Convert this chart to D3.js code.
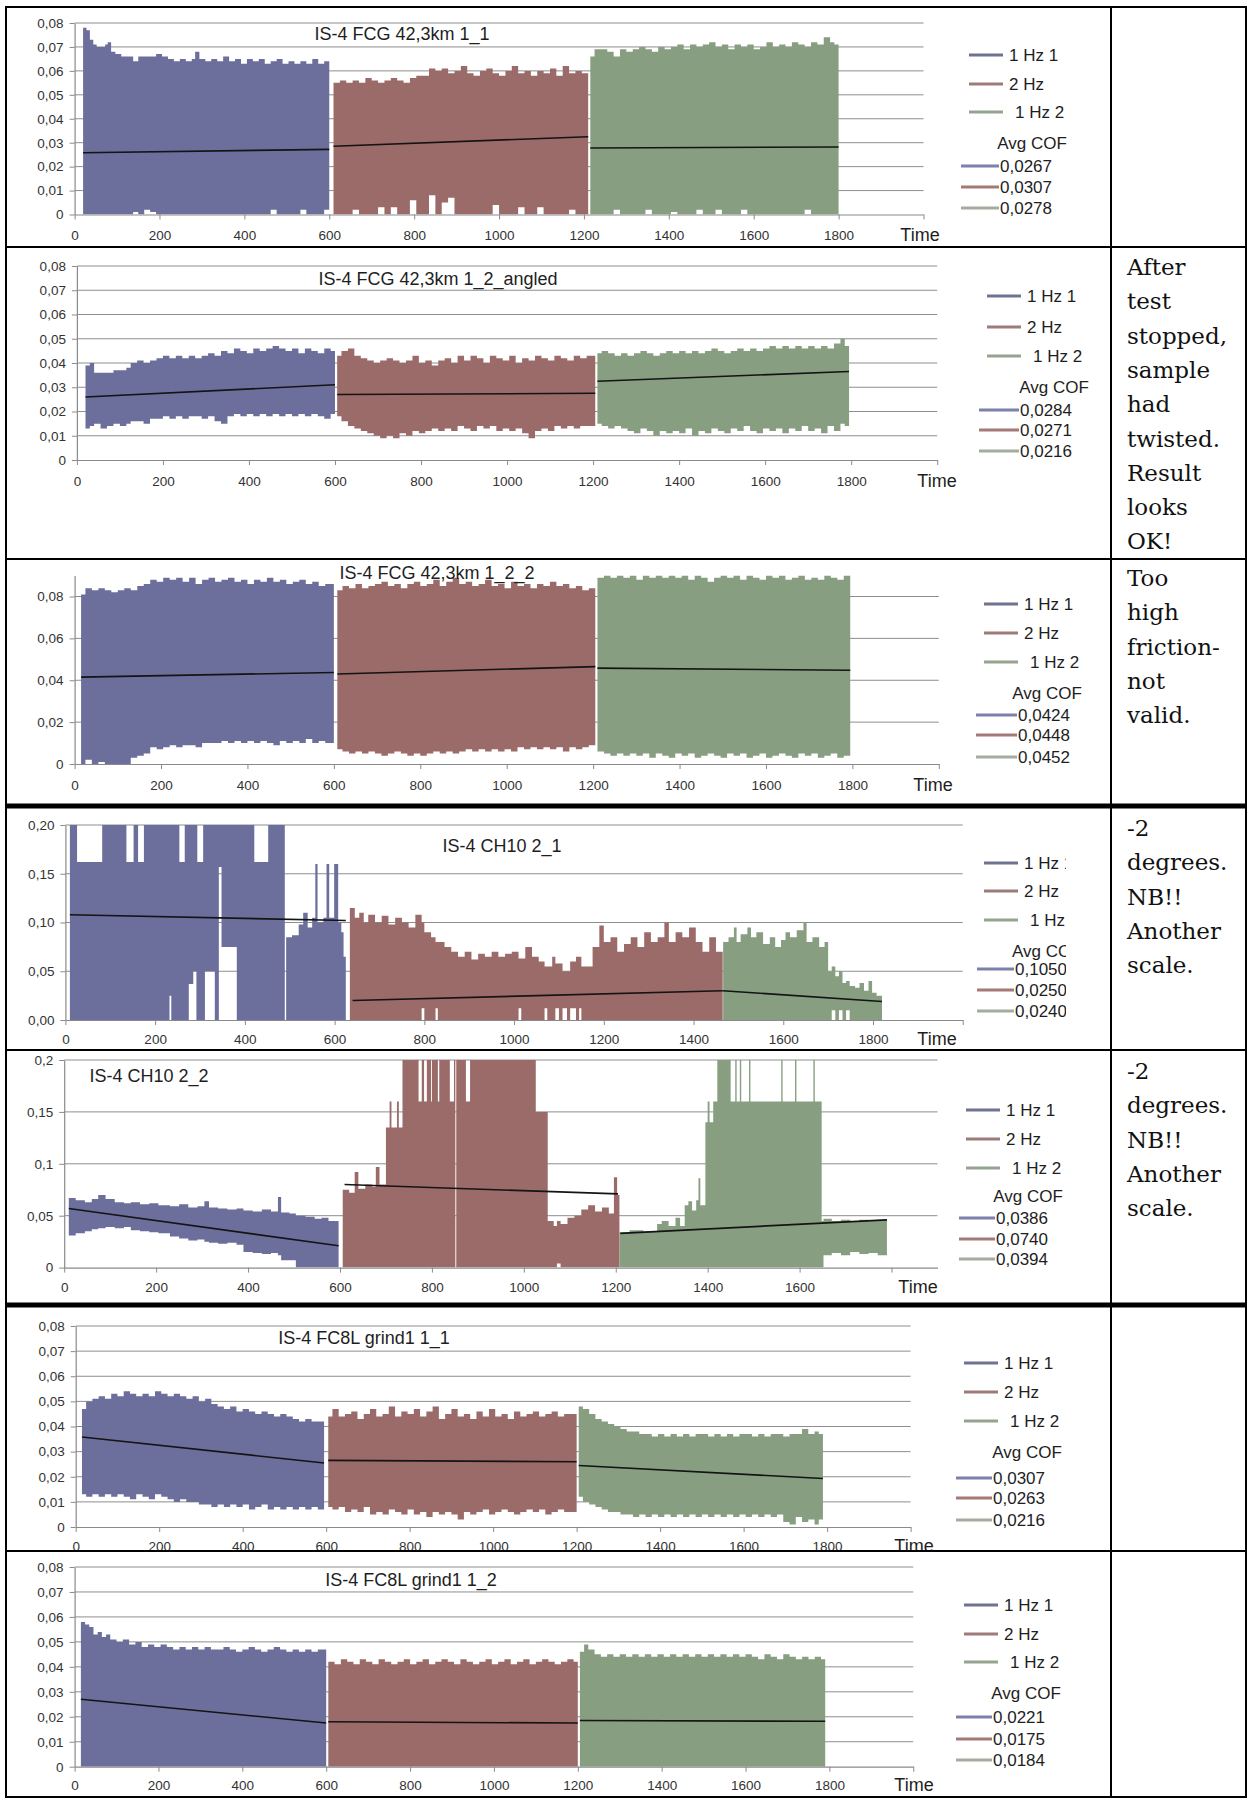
<!DOCTYPE html>
<html><head><meta charset="utf-8">
<script src="https://cdn.jsdelivr.net/npm/d3@7"></script>
<style>
body{margin:0;background:#fff}
svg{display:block}
</style>
</head><body>
<svg id="c" width="1247" height="1798"></svg>
<script>
// ---------------- DATA ----------------
const seriesNames = ["1 Hz 1", "2 Hz", " 1 Hz 2"];
const avgLabel = "Avg COF";
const titles = ["IS-4 FCG 42,3km 1_1", "IS-4 FCG 42,3km 1_2_angled", "IS-4 FCG 42,3km 1_2_2",
  "IS-4 CH10 2_1", "IS-4 CH10 2_2", "IS-4 FC8L grind1 1_1", "IS-4 FC8L grind1 1_2"];
const avgValues = [["0,0267","0,0307","0,0278"],["0,0284","0,0271","0,0216"],["0,0424","0,0448","0,0452"],
  ["0,1050","0,0250","0,0240"],["0,0386","0,0740","0,0394"],["0,0307","0,0263","0,0216"],["0,0221","0,0175","0,0184"]];
const comments = [[], ["After","test","stopped,","sample","had","twisted.","Result","looks","OK!"],
  ["Too","high","friction-","not","valid."], ["-2","degrees.","NB!!","Another","scale."],
  ["-2","degrees.","NB!!","Another","scale."], [], []];

const yTicks8 = [0,0.01,0.02,0.03,0.04,0.05,0.06,0.07,0.08];
const yTicksEven = [0,0.02,0.04,0.06,0.08];
const yTicks20 = [0,0.05,0.10,0.15,0.20];
const xTicks2000 = [0,200,400,600,800,1000,1200,1400,1600,1800,2000];
const xTicks1800 = [0,200,400,600,800,1000,1200,1400,1600,1800];

// each point: [time, lower envelope, upper envelope]
const p1Blue = [[20,0,0.078],[28,0,0.077],[36,0,0.073],[44,0,0.071],[52,0,0.070],[62,0,0.070],[72,0,0.071],[78,0,0.072],[86,0,0.068],[96,0,0.067],[110,0,0.066],[124,0,0.066],[138,0.001,0.064],[150,0,0.066],[164,0.002,0.066],[178,0.001,0.066],[192,0,0.067],[206,0,0.066],[220,0,0.065],[234,0,0.064],[248,0,0.065],[262,0,0.064],[276,0,0.065],[284,0,0.068],[294,0,0.065],[308,0,0.064],[322,0,0.065],[336,0,0.064],[350,0,0.066],[364,0,0.064],[378,0,0.065],[392,0,0.063],[406,0,0.065],[420,0,0.064],[434,0,0.065],[448,0,0.063],[462,0.002,0.064],[476,0,0.065],[490,0,0.063],[504,0,0.064],[518,0,0.063],[532,0.002,0.064],[546,0,0.063],[560,0,0.065],[574,0,0.063],[588,0.002,0.064],[600,0,0.063]];
const p1Red = [[610,0,0.055],[625,0,0.056],[640,0,0.055],[655,0.002,0.056],[670,0,0.055],[685,0,0.057],[700,0,0.056],[715,0.003,0.055],[730,0,0.056],[745,0.003,0.057],[760,0,0.056],[775,0,0.055],[790,0.006,0.057],[805,0,0.058],[820,0,0.058],[835,0.008,0.061],[850,0,0.060],[865,0.005,0.061],[880,0.007,0.059],[895,0,0.060],[910,0,0.062],[925,0,0.059],[940,0,0.058],[955,0,0.060],[970,0,0.061],[985,0.004,0.059],[1000,0,0.058],[1015,0,0.060],[1030,0,0.062],[1045,0.003,0.059],[1060,0,0.060],[1075,0,0.058],[1090,0.003,0.060],[1105,0,0.059],[1120,0,0.061],[1135,0,0.058],[1150,0,0.062],[1165,0.002,0.059],[1180,0,0.060],[1195,0,0.059],[1210,0,0.060]];
const p1Green = [[1215,0,0.066],[1225,0,0.069],[1240,0,0.069],[1255,0,0.068],[1270,0.002,0.066],[1285,0,0.069],[1300,0,0.068],[1315,0,0.069],[1330,0,0.070],[1345,0.002,0.069],[1360,0,0.068],[1375,0,0.070],[1390,0,0.069],[1405,0.001,0.070],[1420,0,0.071],[1435,0,0.069],[1450,0,0.071],[1465,0.002,0.070],[1480,0,0.071],[1495,0,0.072],[1510,0.002,0.070],[1525,0,0.071],[1540,0,0.069],[1555,0,0.071],[1570,0.002,0.070],[1585,0,0.071],[1600,0,0.069],[1615,0,0.070],[1630,0,0.072],[1645,0,0.070],[1660,0,0.071],[1675,0,0.070],[1690,0,0.072],[1705,0,0.071],[1720,0.002,0.070],[1735,0,0.072],[1750,0,0.071],[1765,0,0.074],[1780,0,0.072],[1790,0,0.071],[1800,0,0.071]];
const p1Trend = [[20,0.0258,600,0.0272],[610,0.0285,1210,0.0325],[1215,0.0278,1800,0.0282]];

const p2Blue = [[20,0.013,0.039],[30,0.014,0.040],[40,0.015,0.036],[55,0.013,0.036],[70,0.014,0.036],[85,0.015,0.037],[100,0.014,0.037],[115,0.015,0.038],[125,0.016,0.040],[140,0.016,0.041],[155,0.015,0.040],[170,0.017,0.041],[185,0.017,0.042],[200,0.018,0.043],[215,0.017,0.042],[230,0.018,0.043],[245,0.017,0.042],[260,0.018,0.043],[275,0.018,0.042],[290,0.017,0.043],[305,0.018,0.044],[320,0.016,0.043],[335,0.015,0.045],[350,0.018,0.044],[365,0.019,0.046],[380,0.018,0.045],[395,0.019,0.044],[410,0.018,0.046],[425,0.019,0.045],[440,0.018,0.046],[455,0.019,0.047],[470,0.018,0.046],[485,0.019,0.045],[500,0.018,0.046],[515,0.019,0.044],[530,0.018,0.046],[545,0.019,0.045],[560,0.018,0.044],[575,0.017,0.046],[590,0.019,0.045],[600,0.019,0.045]];
const p2Red = [[605,0.018,0.043],[615,0.016,0.045],[630,0.014,0.046],[645,0.013,0.043],[660,0.012,0.042],[675,0.011,0.041],[690,0.010,0.040],[705,0.009,0.041],[720,0.010,0.042],[735,0.009,0.041],[750,0.011,0.040],[765,0.010,0.041],[780,0.012,0.043],[795,0.011,0.040],[810,0.012,0.041],[825,0.013,0.039],[840,0.012,0.041],[855,0.013,0.042],[870,0.012,0.040],[885,0.014,0.043],[900,0.013,0.041],[915,0.012,0.043],[930,0.014,0.042],[945,0.013,0.040],[960,0.014,0.043],[975,0.012,0.042],[990,0.013,0.041],[1005,0.012,0.043],[1020,0.013,0.040],[1035,0.011,0.042],[1050,0.009,0.041],[1065,0.012,0.043],[1080,0.013,0.042],[1095,0.012,0.041],[1110,0.014,0.043],[1125,0.013,0.042],[1140,0.014,0.041],[1155,0.013,0.043],[1170,0.014,0.042],[1185,0.014,0.043],[1205,0.015,0.043]];
const p2Green = [[1210,0.015,0.044],[1220,0.014,0.045],[1235,0.013,0.044],[1250,0.014,0.043],[1265,0.013,0.044],[1280,0.012,0.043],[1295,0.011,0.044],[1310,0.013,0.045],[1325,0.012,0.044],[1340,0.010,0.043],[1355,0.012,0.044],[1370,0.011,0.045],[1385,0.012,0.044],[1400,0.011,0.045],[1415,0.013,0.044],[1430,0.010,0.045],[1445,0.012,0.044],[1460,0.011,0.045],[1475,0.013,0.046],[1490,0.012,0.045],[1505,0.011,0.044],[1520,0.013,0.045],[1535,0.012,0.046],[1550,0.014,0.045],[1565,0.012,0.046],[1580,0.011,0.045],[1595,0.013,0.046],[1610,0.012,0.047],[1625,0.013,0.046],[1640,0.011,0.047],[1655,0.013,0.046],[1670,0.012,0.047],[1685,0.014,0.046],[1700,0.012,0.047],[1715,0.013,0.046],[1730,0.011,0.047],[1745,0.014,0.046],[1760,0.012,0.048],[1775,0.015,0.050],[1785,0.014,0.047],[1795,0.016,0.047]];
const p2Trend = [[20,0.026,600,0.031],[605,0.027,1205,0.0275],[1210,0.0325,1795,0.0365]];

const p3Blue = [[15,0.000,0.081],[25,0.002,0.084],[40,0.000,0.083],[55,0.001,0.084],[70,0.000,0.083],[85,0.000,0.082],[100,0.000,0.083],[115,0.000,0.084],[130,0.003,0.083],[145,0.004,0.085],[160,0.005,0.086],[175,0.008,0.088],[190,0.007,0.087],[205,0.008,0.089],[220,0.009,0.088],[235,0.008,0.089],[250,0.009,0.087],[265,0.009,0.089],[280,0.008,0.086],[295,0.010,0.088],[310,0.010,0.089],[325,0.010,0.087],[340,0.011,0.088],[355,0.010,0.089],[370,0.011,0.087],[385,0.010,0.088],[400,0.011,0.086],[415,0.010,0.088],[430,0.011,0.087],[445,0.010,0.089],[460,0.009,0.087],[475,0.011,0.088],[490,0.010,0.086],[505,0.011,0.087],[520,0.010,0.088],[535,0.012,0.086],[550,0.010,0.087],[565,0.011,0.085],[580,0.010,0.086],[600,0.011,0.086]];
const p3Red = [[608,0.007,0.083],[620,0.006,0.085],[635,0.005,0.084],[650,0.006,0.086],[665,0.005,0.084],[680,0.006,0.085],[695,0.005,0.086],[710,0.004,0.087],[725,0.005,0.085],[740,0.006,0.086],[755,0.005,0.084],[770,0.004,0.086],[785,0.005,0.087],[800,0.004,0.085],[815,0.005,0.086],[830,0.006,0.088],[845,0.005,0.085],[860,0.006,0.087],[875,0.005,0.089],[890,0.006,0.086],[905,0.007,0.087],[920,0.006,0.085],[935,0.007,0.086],[950,0.006,0.088],[965,0.007,0.085],[980,0.006,0.086],[995,0.007,0.084],[1010,0.006,0.087],[1025,0.008,0.085],[1040,0.007,0.086],[1055,0.008,0.084],[1070,0.007,0.086],[1085,0.008,0.085],[1100,0.007,0.087],[1115,0.008,0.085],[1130,0.006,0.086],[1145,0.008,0.084],[1160,0.007,0.085],[1175,0.008,0.083],[1190,0.009,0.084],[1205,0.008,0.083]];
const p3Green = [[1210,0.006,0.089],[1225,0.005,0.090],[1240,0.004,0.089],[1255,0.005,0.090],[1270,0.004,0.089],[1285,0.005,0.090],[1300,0.004,0.088],[1315,0.005,0.090],[1330,0.003,0.089],[1345,0.005,0.090],[1360,0.004,0.089],[1375,0.003,0.090],[1390,0.005,0.089],[1405,0.004,0.090],[1420,0.005,0.088],[1435,0.003,0.090],[1450,0.004,0.089],[1465,0.005,0.087],[1480,0.004,0.089],[1495,0.003,0.090],[1510,0.005,0.089],[1525,0.004,0.090],[1540,0.005,0.088],[1555,0.003,0.090],[1570,0.004,0.089],[1585,0.005,0.088],[1600,0.003,0.090],[1615,0.004,0.089],[1630,0.005,0.090],[1645,0.004,0.088],[1660,0.003,0.089],[1675,0.005,0.090],[1690,0.004,0.088],[1705,0.005,0.089],[1720,0.003,0.088],[1735,0.004,0.090],[1750,0.005,0.089],[1765,0.003,0.088],[1780,0.004,0.090],[1795,0.005,0.089]];
const p3Trend = [[15,0.0415,600,0.0437],[608,0.043,1205,0.0465],[1210,0.0458,1795,0.0448]];

const p4Blue = [[10,0,0.20],[26,0,0.162],[82,0,0.20],[125,0,0.20],[136,0,0.162],[152,0,0.20],[162,0,0.162],[175,0,0.20],[232,0.025,0.20],[236,0,0.20],[254,0,0.162],[266,0,0.20],[275,0.037,0.20],[285,0.05,0.20],[292,0,0.20],[294,0,0.162],[307,0,0.20],[311,0.05,0.20],[333,0,0.20],[342,0.157,0.20],[348,0.075,0.20],[382,0,0.20],[421,0,0.162],[452,0,0.20],[489,0,0],[492,0,0.085],[505,0,0.087],[520,0,0.098],[530,0,0.11],[540,0,0.095],[550,0,0.105],[557,0,0.16],[562,0,0.10],[575,0,0.105],[582,0,0.16],[588,0,0.105],[599,0,0.16],[608,0,0.10],[615,0,0.09],[620,0,0.065],[625,0,0.065]];
const p4Red = [[634,0,0.115],[645,0,0.105],[655,0,0.11],[665,0,0.10],[675,0,0.108],[690,0,0.10],[705,0,0.107],[720,0,0.098],[735,0,0.105],[750,0,0.10],[765,0,0.095],[780,0,0.108],[794,0.012,0.10],[800,0,0.09],[815,0,0.085],[825,0.012,0.08],[830,0,0.08],[845,0,0.075],[860,0,0.07],[875,0,0.065],[890,0,0.07],[905,0,0.062],[920,0,0.068],[935,0,0.065],[950,0,0.07],[965,0,0.065],[980,0,0.068],[995,0,0.07],[1010,0.012,0.063],[1016,0,0.063],[1025,0,0.075],[1040,0,0.065],[1055,0,0.06],[1068,0.012,0.055],[1074,0,0.055],[1085,0,0.065],[1092,0.012,0.058],[1100,0,0.058],[1108,0.012,0.05],[1118,0,0.05],[1125,0.012,0.06],[1138,0,0.065],[1145,0.012,0.065],[1150,0,0.055],[1160,0,0.055],[1175,0,0.075],[1190,0,0.097],[1200,0,0.08],[1215,0,0.085],[1230,0,0.07],[1245,0,0.078],[1260,0,0.085],[1275,0,0.075],[1290,0,0.09],[1305,0,0.08],[1320,0,0.085],[1335,0,0.10],[1345,0,0.08],[1360,0,0.09],[1375,0,0.085],[1390,0,0.095],[1405,0,0.08],[1420,0,0.07],[1435,0,0.085],[1450,0,0.07],[1465,0,0.065]];
const p4Green = [[1466,0,0.08],[1478,0,0.085],[1490,0,0.095],[1496,0,0.08],[1505,0,0.088],[1520,0,0.095],[1528,0,0.085],[1540,0,0.09],[1555,0,0.078],[1570,0,0.085],[1582,0,0.075],[1595,0,0.082],[1605,0,0.09],[1615,0,0.085],[1630,0,0.092],[1645,0,0.10],[1652,0,0.08],[1665,0,0.085],[1680,0,0.075],[1692,0,0.08],[1700,0,0.05],[1708,0.01,0.055],[1716,0,0.045],[1724,0.01,0.05],[1732,0,0.038],[1740,0.01,0.04],[1748,0,0.035],[1760,0,0.033],[1770,0,0.038],[1780,0,0.03],[1790,0,0.04],[1798,0,0.028],[1808,0,0.025],[1820,0,0.025]];
const p4Trend = [[10,0.108,625,0.102],[640,0.020,1465,0.030],[1465,0.030,1820,0.019]];

const p5Blue = [[10,0.031,0.067],[25,0.033,0.065],[45,0.035,0.063],[60,0.037,0.066],[74,0.038,0.070],[90,0.039,0.066],[110,0.038,0.063],[130,0.039,0.062],[145,0.036,0.063],[165,0.035,0.061],[185,0.034,0.062],[205,0.033,0.060],[230,0.030,0.059],[250,0.028,0.061],[270,0.026,0.058],[290,0.027,0.059],[305,0.025,0.064],[315,0.024,0.058],[335,0.023,0.057],[355,0.024,0.056],[375,0.022,0.057],[390,0.015,0.055],[410,0.014,0.054],[430,0.013,0.056],[450,0.014,0.054],[465,0.012,0.068],[472,0.007,0.053],[490,0.007,0.052],[504,0,0.050],[525,0,0.049],[545,0,0.047],[560,0,0.048],[575,0,0.045],[597,0,0.044]];
const p5Red = [[606,0,0.075],[620,0,0.072],[632,0,0.092],[640,0,0.076],[655,0,0.08],[670,0,0.078],[678,0,0.097],[686,0,0.08],[700,0,0.135],[708,0,0.16],[712,0,0.135],[724,0,0.16],[728,0,0.135],[736,0,0.20],[771,0,0.16],[778,0,0.20],[783,0,0.16],[789,0,0.20],[798,0,0.16],[800,0,0.20],[813,0,0.16],[816,0,0.20],[839,0,0.16],[848,0,0.20],[851,0,0],[853,0,0.20],[874,0,0.16],[883,0,0.20],[1026,0,0.15],[1052,0,0.045],[1065,0,0.04],[1072,0.004,0.045],[1080,0,0.042],[1095,0,0.048],[1110,0,0.05],[1125,0,0.056],[1140,0,0.06],[1155,0,0.054],[1170,0,0.058],[1185,0,0.052],[1196,0,0.087],[1203,0,0.07],[1208,0,0.07]];
const p5Green = [[1208,0,0.034],[1230,0,0.036],[1260,0,0.035],[1290,0,0.042],[1300,0,0.045],[1315,0,0.04],[1330,0,0.048],[1340,0,0.04],[1350,0,0.06],[1358,0,0.064],[1366,0,0.055],[1375,0,0.065],[1380,0,0.086],[1384,0,0.06],[1395,0,0.14],[1400,0,0.16],[1404,0,0.14],[1412,0,0.16],[1421,0,0.20],[1450,0,0.16],[1460,0,0.20],[1463,0,0.16],[1470,0,0.20],[1473,0,0.16],[1490,0,0.20],[1493,0,0.16],[1560,0,0.20],[1563,0,0.16],[1590,0,0.20],[1593,0,0.16],[1630,0,0.20],[1633,0,0.16],[1648,0,0.045],[1652,0.012,0.047],[1670,0.014,0.045],[1690,0.012,0.046],[1710,0.015,0.044],[1730,0.013,0.046],[1750,0.014,0.045],[1770,0.012,0.046],[1790,0.013,0.045]];
const p5Trend = [[10,0.057,597,0.021],[610,0.080,1205,0.071],[1210,0.033,1790,0.046]];

const p6Blue = [[15,0.013,0.047],[25,0.012,0.050],[40,0.013,0.051],[55,0.012,0.052],[70,0.013,0.051],[85,0.012,0.053],[100,0.013,0.052],[115,0.012,0.054],[130,0.011,0.053],[145,0.013,0.052],[160,0.012,0.053],[175,0.011,0.052],[190,0.013,0.054],[205,0.012,0.053],[220,0.011,0.052],[235,0.010,0.053],[250,0.011,0.052],[265,0.010,0.051],[280,0.010,0.052],[295,0.009,0.050],[310,0.009,0.051],[325,0.008,0.049],[340,0.009,0.048],[355,0.008,0.047],[370,0.009,0.048],[385,0.008,0.046],[400,0.009,0.047],[415,0.007,0.046],[430,0.008,0.045],[445,0.009,0.046],[460,0.007,0.045],[475,0.008,0.044],[490,0.007,0.045],[505,0.008,0.044],[520,0.007,0.043],[535,0.008,0.042],[550,0.007,0.043],[565,0.008,0.042],[580,0.007,0.042],[595,0.008,0.041]];
const p6Red = [[605,0.008,0.044],[615,0.007,0.047],[630,0.008,0.044],[645,0.006,0.045],[660,0.007,0.046],[675,0.006,0.043],[690,0.008,0.045],[705,0.005,0.047],[720,0.006,0.044],[735,0.005,0.045],[750,0.007,0.048],[765,0.006,0.044],[780,0.005,0.046],[795,0.007,0.045],[810,0.005,0.047],[825,0.006,0.044],[840,0.004,0.046],[855,0.006,0.048],[870,0.005,0.043],[885,0.006,0.045],[900,0.005,0.047],[915,0.003,0.044],[930,0.006,0.045],[945,0.005,0.043],[960,0.006,0.046],[975,0.007,0.044],[990,0.005,0.047],[1005,0.006,0.044],[1020,0.007,0.045],[1035,0.006,0.043],[1050,0.005,0.046],[1065,0.006,0.044],[1080,0.007,0.045],[1095,0.006,0.046],[1110,0.007,0.044],[1125,0.005,0.045],[1140,0.006,0.046],[1155,0.007,0.044],[1170,0.006,0.045],[1185,0.006,0.045],[1200,0.004,0.044]];
const p6Green = [[1205,0.012,0.048],[1215,0.010,0.047],[1230,0.009,0.045],[1245,0.008,0.043],[1260,0.007,0.042],[1275,0.006,0.041],[1290,0.006,0.040],[1305,0.005,0.039],[1320,0.005,0.038],[1335,0.004,0.038],[1350,0.005,0.037],[1365,0.004,0.037],[1380,0.005,0.036],[1395,0.004,0.037],[1410,0.005,0.036],[1425,0.004,0.037],[1440,0.005,0.036],[1455,0.004,0.037],[1470,0.005,0.036],[1485,0.004,0.037],[1500,0.005,0.037],[1515,0.004,0.036],[1530,0.005,0.037],[1545,0.004,0.036],[1560,0.005,0.037],[1575,0.004,0.036],[1590,0.005,0.037],[1605,0.004,0.037],[1620,0.005,0.036],[1635,0.004,0.037],[1650,0.005,0.036],[1665,0.004,0.037],[1680,0.005,0.037],[1695,0.002,0.036],[1710,0.001,0.037],[1725,0.004,0.037],[1740,0.002,0.039],[1755,0.003,0.037],[1770,0.001,0.038],[1780,0.003,0.037],[1790,0.004,0.036]];
const p6Trend = [[15,0.0358,595,0.0255],[605,0.0265,1200,0.026],[1205,0.0245,1790,0.0193]];

const p7Blue = [[15,0,0.058],[25,0,0.057],[35,0,0.056],[45,0,0.053],[55,0,0.054],[65,0,0.052],[75,0,0.053],[85,0,0.051],[100,0,0.050],[115,0,0.051],[130,0,0.049],[145,0,0.050],[160,0,0.048],[175,0,0.049],[190,0,0.048],[205,0,0.049],[220,0,0.048],[235,0,0.047],[250,0,0.048],[265,0,0.047],[280,0,0.048],[295,0,0.047],[310,0,0.048],[325,0,0.047],[340,0,0.047],[355,0,0.048],[370,0,0.047],[385,0,0.046],[400,0,0.047],[415,0,0.048],[430,0,0.047],[445,0,0.046],[460,0,0.047],[475,0,0.048],[490,0,0.047],[505,0,0.046],[520,0,0.047],[535,0,0.046],[550,0,0.047],[565,0,0.046],[580,0,0.047],[600,0,0.046]];
const p7Red = [[605,0,0.042],[620,0,0.041],[635,0,0.043],[650,0,0.042],[665,0,0.041],[680,0,0.043],[695,0,0.042],[710,0,0.041],[725,0,0.043],[740,0,0.042],[755,0,0.041],[770,0,0.042],[785,0,0.043],[800,0,0.041],[815,0,0.042],[830,0,0.043],[845,0,0.041],[860,0,0.042],[875,0,0.043],[890,0,0.042],[905,0,0.041],[920,0,0.043],[935,0,0.042],[950,0,0.041],[965,0,0.042],[980,0,0.043],[995,0,0.041],[1010,0,0.042],[1025,0,0.043],[1040,0,0.041],[1055,0,0.042],[1070,0,0.043],[1085,0,0.041],[1100,0,0.042],[1115,0,0.043],[1130,0,0.042],[1145,0,0.041],[1160,0,0.042],[1175,0,0.043],[1190,0,0.042],[1200,0,0.042]];
const p7Green = [[1205,0,0.046],[1215,0,0.049],[1225,0,0.047],[1240,0,0.045],[1255,0,0.044],[1270,0,0.045],[1285,0,0.044],[1300,0,0.045],[1315,0,0.044],[1330,0,0.045],[1345,0,0.044],[1360,0,0.045],[1375,0,0.044],[1390,0,0.045],[1405,0,0.044],[1420,0,0.045],[1435,0,0.044],[1450,0,0.045],[1465,0,0.044],[1480,0,0.045],[1495,0,0.044],[1510,0,0.045],[1525,0,0.044],[1540,0,0.045],[1555,0,0.044],[1570,0,0.045],[1585,0,0.044],[1600,0,0.045],[1615,0,0.044],[1630,0,0.043],[1645,0,0.045],[1660,0,0.044],[1675,0,0.043],[1690,0,0.045],[1705,0,0.044],[1720,0,0.043],[1735,0,0.044],[1750,0,0.043],[1765,0,0.044],[1780,0,0.043],[1790,0,0.043]];
const p7Trend = [[15,0.027,600,0.0175],[605,0.018,1200,0.0175],[1205,0.0185,1790,0.0182]];

const panelSeries = [[p1Blue,p1Red,p1Green],[p2Blue,p2Red,p2Green],[p3Blue,p3Red,p3Green],
  [p4Blue,p4Red,p4Green],[p5Blue,p5Red,p5Green],[p6Blue,p6Red,p6Green],[p7Blue,p7Red,p7Green]];
const panelTrends = [p1Trend,p2Trend,p3Trend,p4Trend,p5Trend,p6Trend,p7Trend];

// ---------------- STYLE / LAYOUT ----------------
const SANS = '"Liberation Sans",Arial,sans-serif';
const SERIF = '"DejaVu Serif","Liberation Serif",serif';
const fillCols = ["#6c6f9c","#9b6b69","#879e80"];
const legLineCols = ["#6f7391","#9c7b79","#95a490"];
const avgLineCols = ["#7d80ac","#a47a78","#a4ac9f"];
const fmtGen = v => v === 0 ? "0" : String(+v.toFixed(4)).replace(".", ",");
const fmt2 = v => v.toFixed(2).replace(".", ",");

const rowsY = [7, 247, 559, 806, 1050, 1305, 1551, 1797];
const colX = 1111;

const layouts = [
 {x0:74.6, xRefV:1800, xRefP:838.6, xMax:2000, yb:214.5, yRefV:0.08, yRefP:23, yMax:0.08, yTicks:yTicks8, fmt:fmtGen, xTicks:xTicks2000, hide:[2000], labY:235, title:[402,34,"middle"], time:[920,235],
  leg:{sx:969, sy:[55,84,112], ax:1032, ay:143, vx:961, vt:1000, vy:[166,187,208]}},
 {x0:76.9, xRefV:1800, xRefP:851.2, xMax:2000, yb:460, yRefV:0.08, yRefP:266, yMax:0.08, yTicks:yTicks8, fmt:fmtGen, xTicks:xTicks2000, hide:[2000], labY:481, title:[438,279,"middle"], time:[937,481],
  leg:{sx:987, sy:[296,327,356], ax:1054, ay:387, vx:979, vt:1020, vy:[410,430,451]}},
 {x0:74.6, xRefV:1800, xRefP:852.4, xMax:2000, yb:764, yRefV:0.08, yRefP:596.5, yMax:0.09, yTicks:yTicksEven, fmt:fmtGen, xTicks:xTicks2000, hide:[2000], labY:785, title:[437,573,"middle"], time:[933,785],
  leg:{sx:984, sy:[604,633,662], ax:1047, ay:693, vx:976, vt:1018, vy:[715,735,757]}},
 {x0:65.4, xRefV:1800, xRefP:873, xMax:2000, yb:1020, yRefV:0.2, yRefP:825, yMax:0.2, yTicks:yTicks20, fmt:fmt2, xTicks:xTicks2000, hide:[2000], labY:1039, title:[502,846,"middle"], time:[937,1039],
  leg:{sx:984, sy:[863,891,920], ax:1012, ay:951, vx:977, vt:1015, vy:[969,990,1011], clipX:1066}},
 {x0:64.2, xRefV:1600, xRefP:799.6, xMax:1900, yb:1267.6, yRefV:0.2, yRefP:1060, yMax:0.2, yTicks:yTicks20, fmt:fmtGen, xTicks:xTicks1800, hide:[1800], labY:1287, title:[89.5,1076,"start"], time:[918,1287],
  leg:{sx:966, sy:[1110,1139,1168], ax:1028, ay:1196, vx:959, vt:996, vy:[1218,1239,1259]}},
 {x0:75.7, xRefV:1800, xRefP:827.1, xMax:2000, yb:1527, yRefV:0.08, yRefP:1326, yMax:0.08, yTicks:yTicks8, fmt:fmtGen, xTicks:xTicks2000, hide:[2000], labY:1546, title:[364,1338,"middle"], time:[914,1546],
  leg:{sx:964, sy:[1363,1392,1421], ax:1027, ay:1452, vx:956, vt:993, vy:[1478,1498,1520]}},
 {x0:74.6, xRefV:1800, xRefP:829.4, xMax:2000, yb:1766.7, yRefV:0.08, yRefP:1567, yMax:0.08, yTicks:yTicks8, fmt:fmtGen, xTicks:xTicks2000, hide:[2000], labY:1785, title:[411,1580,"middle"], time:[914,1785],
  leg:{sx:964, sy:[1605,1634,1662], ax:1026, ay:1693, vx:956, vt:993, vy:[1717,1739,1760]}}
];
const commentFirstBaseline = [0,275,586,836,1079,0,0];

// ---------------- DRAW ----------------
const svg = d3.select("#c");
svg.append("rect").attr("width",1247).attr("height",1798).attr("fill","#fff");
const defs = svg.append("defs");
const TICK_FS = 13.5;

function txt(sel, size, fam) {
  return sel.style("font-family", fam || SANS).style("font-size", size + "px").attr("fill", "#1e1e1e");
}

layouts.forEach((L, i) => {
  const top = rowsY[i], bot = rowsY[i+1];
  defs.append("clipPath").attr("id","cell"+i).append("rect")
    .attr("x",6).attr("y",top).attr("width",colX-6).attr("height",bot-top);
  const g = svg.append("g").attr("clip-path",`url(#cell${i})`);

  const xr = d3.scaleLinear().domain([0,L.xRefV]).range([L.x0,L.xRefP]);
  const x = d3.scaleLinear().domain([0,L.xMax]).range([L.x0, xr(L.xMax)]);
  const yr = d3.scaleLinear().domain([0,L.yRefV]).range([L.yb,L.yRefP]);
  const y = d3.scaleLinear().domain([0,L.yMax]).range([L.yb, yr(L.yMax)]);
  const [px0, px1] = x.range(), [pyb, pyt] = y.range();

  g.append("g").selectAll("line").data(L.yTicks.filter(v => v > 0)).join("line")
    .attr("x1",px0).attr("x2",px1).attr("y1",d=>y(d)).attr("y2",d=>y(d))
    .attr("stroke","#8e8e8e").attr("stroke-width",1);

  defs.append("clipPath").attr("id","plot"+i).append("rect")
    .attr("x",px0).attr("y",pyt).attr("width",px1-px0).attr("height",pyb-pyt);
  const pg = g.append("g").attr("clip-path",`url(#plot${i})`);

  const area = d3.area().x(d=>x(d[0])).y0(d=>y(d[1])).y1(d=>y(d[2])).curve(d3.curveStepAfter);
  panelSeries[i].forEach((s,k) => {
    pg.append("path").datum(s).attr("d",area).attr("fill",fillCols[k]);
  });
  const line = d3.line().x(d=>x(d[0])).y(d=>y(d[1]));
  panelTrends[i].forEach(t => {
    pg.append("path").datum([[t[0],t[1]],[t[2],t[3]]]).attr("d",line)
      .attr("stroke","#141414").attr("stroke-width",1.6).attr("fill","none");
  });

  const ya = g.append("g").attr("transform",`translate(${L.x0},0)`)
    .call(d3.axisLeft(y).tickValues(L.yTicks).tickFormat(L.fmt).tickSizeInner(5).tickSizeOuter(0).tickPadding(6));
  const pad = L.labY - L.yb - 5 - 0.36*TICK_FS;
  const xa = g.append("g").attr("transform",`translate(0,${L.yb})`)
    .call(d3.axisBottom(x).tickValues(L.xTicks).tickFormat(v => L.hide.includes(v) ? "" : String(v))
      .tickSizeInner(5).tickSizeOuter(0).tickPadding(pad));
  [ya, xa].forEach(a => {
    a.select(".domain").attr("stroke","#8a8a8a").attr("stroke-width",1.2);
    a.selectAll(".tick line").attr("stroke","#8a8a8a");
    a.selectAll("text").style("font-size",TICK_FS+"px").style("font-family",SANS).attr("fill","#333");
  });

  txt(g.append("text").attr("x",L.title[0]).attr("y",L.title[1]).attr("text-anchor",L.title[2])
    .attr("dominant-baseline","central"), 18).text(titles[i]);
  txt(g.append("text").attr("x",L.time[0]).attr("y",L.time[1]).attr("text-anchor","middle")
    .attr("dominant-baseline","central"), 18).text("Time");

  let lg = g.append("g");
  if (L.leg.clipX) {
    defs.append("clipPath").attr("id","leg"+i).append("rect")
      .attr("x",6).attr("y",top).attr("width",L.leg.clipX-6).attr("height",bot-top);
    lg.attr("clip-path",`url(#leg${i})`);
  }
  const Lg = L.leg;
  seriesNames.forEach((n,k) => {
    lg.append("line").attr("x1",Lg.sx).attr("x2",Lg.sx+34).attr("y1",Lg.sy[k]).attr("y2",Lg.sy[k])
      .attr("stroke",legLineCols[k]).attr("stroke-width",3);
    txt(lg.append("text").attr("x",Lg.sx+40+(k===2?6:0)).attr("y",Lg.sy[k]).attr("dominant-baseline","central"), 17)
      .text(n.trim());
  });
  txt(lg.append("text").attr("x",Lg.ax).attr("y",Lg.ay).attr("text-anchor",L.leg.clipX ? "start" : "middle")
    .attr("dominant-baseline","central"), 17).text(avgLabel);
  avgValues[i].forEach((v,k) => {
    lg.append("line").attr("x1",Lg.vx).attr("x2",Lg.vt-1).attr("y1",Lg.vy[k]).attr("y2",Lg.vy[k])
      .attr("stroke",avgLineCols[k]).attr("stroke-width",3);
    txt(lg.append("text").attr("x",Lg.vt).attr("y",Lg.vy[k]).attr("dominant-baseline","central"), 17).text(v);
  });

  const cm = comments[i];
  if (cm.length) {
    const first = commentFirstBaseline[i];
    svg.append("g").selectAll("text").data(cm).join("text")
      .attr("x",1127).attr("y",(d,j)=>first + j*34.3)
      .style("font-family",SERIF).style("font-size","23px").attr("fill","#111")
      .text(d=>d);
  }
});

const tb = svg.append("g");
rowsY.forEach(yy => {
  const thick = (yy === 806 || yy === 1305);
  tb.append("line").attr("x1",5).attr("x2",1247).attr("y1",yy).attr("y2",yy)
    .attr("stroke","#000").attr("stroke-width",thick ? 5 : 2);
});
[6, colX, 1246].forEach(xx => {
  tb.append("line").attr("x1",xx).attr("x2",xx).attr("y1",6).attr("y2",1798).attr("stroke","#000").attr("stroke-width",2);
});
</script>
</body></html>
